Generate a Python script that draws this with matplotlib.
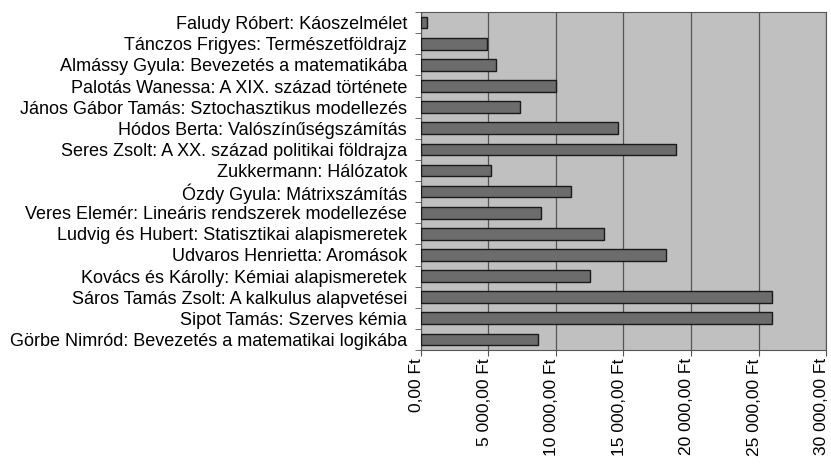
import numpy as np
import matplotlib.pyplot as plt
import matplotlib.transforms as mtransforms
from matplotlib.ticker import FuncFormatter

plt.rcParams['font.family'] = ['Liberation Sans', 'DejaVu Sans']

# categories, top to bottom as in the picture
labels = ["Faludy Róbert: Káoszelmélet",
          "Tánczos Frigyes: Természetföldrajz",
          "Almássy Gyula: Bevezetés a matematikába",
          "Palotás Wanessa: A XIX. század története",
          "János Gábor Tamás: Sztochasztikus modellezés",
          "Hódos Berta: Valószínűségszámítás",
          "Seres Zsolt: A XX. század politikai földrajza",
          "Zukkermann: Hálózatok",
          "Ózdy Gyula: Mátrixszámítás",
          "Veres Elemér: Lineáris rendszerek modellezése",
          "Ludvig és Hubert: Statisztikai alapismeretek",
          "Udvaros Henrietta: Aromások",
          "Kovács és Károlly: Kémiai alapismeretek",
          "Sáros Tamás Zsolt: A kalkulus alapvetései",
          "Sipot Tamás: Szerves kémia",
          "Görbe Nimród: Bevezetés a matematikai logikába"]
values = [480, 4870, 5550, 10000, 7330, 14570, 18870, 5190,
          11090, 8890, 13530, 18150, 12540, 26020, 26000, 8690]
x_ticks = [0, 5000, 10000, 15000, 20000, 25000, 30000]

def ft_format(x, pos):
    s = "{:,.2f}".format(x).replace(",", " ").replace(".", ",")
    return s + " Ft"

fig = plt.figure(figsize=(8.31, 4.66), dpi=100)
ax = fig.add_axes([0.5066, 0.249, 0.4874, 0.725])
ax.set_facecolor('#c0c0c0')

y = np.arange(len(labels))
ax.barh(y, values, height=0.55, color='#6c6c6c', edgecolor='#1a1a1a', linewidth=1.0, zorder=3)

ax.set_xlim(0, 30000)
ax.set_ylim(len(labels) - 0.5, -0.5)
ax.set_xticks(x_ticks)
ax.xaxis.set_major_formatter(FuncFormatter(ft_format))
ax.grid(axis='x', color='#555555', linewidth=0.9, zorder=1)

ax.set_yticks(y)
ax.set_yticklabels(labels, fontsize=13)
ax.tick_params(axis='y', length=0, pad=10)
ax.set_yticks(np.arange(len(labels) + 1) - 0.5, minor=True)
ax.tick_params(axis='y', which='minor', length=4, color='#555555')
ax.tick_params(axis='x', length=4, color='#555555', labelsize=12.5, labelrotation=90, pad=2)

# nudge the rotated value labels a little left so the last one fits
shift = mtransforms.ScaledTranslation(-3 / 72, 0, fig.dpi_scale_trans)
for lab in ax.get_xticklabels():
    lab.set_transform(lab.get_transform() + shift)

for side in ['top', 'right', 'bottom', 'left']:
    ax.spines[side].set_color('#555555')

fig.savefig("out.png", dpi=100)
